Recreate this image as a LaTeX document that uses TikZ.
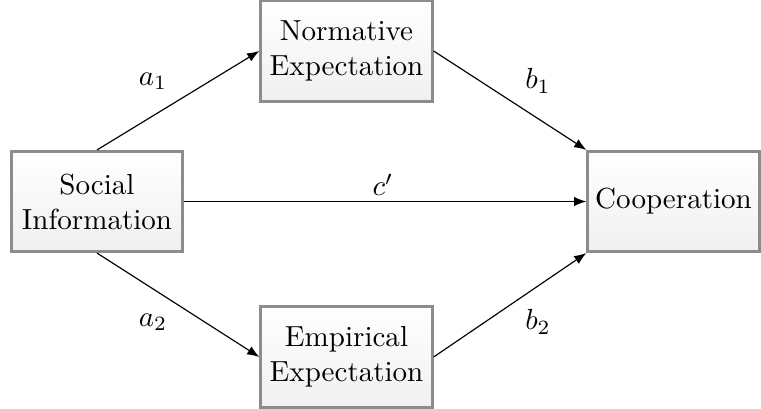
\documentclass[tikz,border=0pt]{standalone}
\usetikzlibrary{arrows.meta}
\begin{document}
\begin{tikzpicture}[x=0.3443pt,y=-0.3443pt,
  varbox/.style={draw=black!45,line width=1pt,top color=white,bottom color=black!6,
    minimum width=59pt,minimum height=34.5pt,align=center,inner sep=2pt},
  path/.style={-{Latex[length=4.2pt,width=3.2pt]},line width=0.4pt},
  lab/.style={inner sep=1pt}]
\useasboundingbox (0,0) rectangle (761,409);
\node[varbox] (soc) at (97,201.5) {Social\\Information};
\node[varbox] (norm) at (346.5,51) {Normative\\Expectation};
\node[varbox] (emp) at (346.5,357) {Empirical\\Expectation};
\node[varbox] (coop) at (673.5,201.5) {Cooperation};
\draw[path] (soc.north) -- (norm.west);
\draw[path] (soc.south) -- (emp.west);
\draw[path] (norm.east) -- (coop.north west);
\draw[path] (emp.east) -- (coop.south west);
\draw[path] (soc.east) -- (coop.west);
\node[lab] (la1) at (153,81) {$a_1$};
\node[lab] (lb1) at (538,81) {$b_1$};
\node[lab] (la2) at (153,322) {$a_2$};
\node[lab] (lb2) at (538,322) {$b_2$};
\node[lab] (lc) at (383,185) {$c'$};
\end{tikzpicture}
\end{document}
